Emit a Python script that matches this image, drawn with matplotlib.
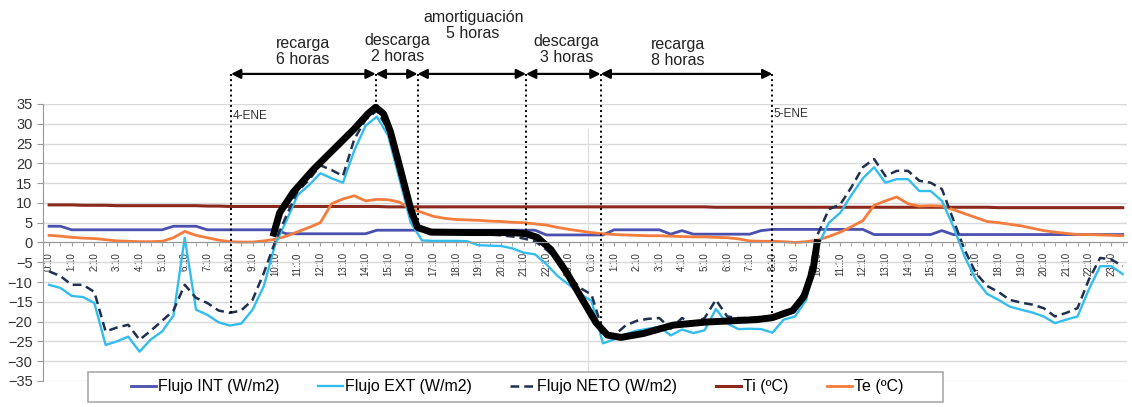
import numpy as np
import matplotlib
matplotlib.use("Agg")
import matplotlib.pyplot as plt
from matplotlib.patches import Rectangle

plt.rcParams["font.family"] = ["Liberation Sans", "DejaVu Sans"]

# horas desde 0:10 del 4-ENE, cada media hora
horas = np.arange(96) * 0.5

flujo_int = [4.1, 4.1, 3.2, 3.2, 3.2, 3.2, 3.2, 3.2, 3.2, 3.2, 3.2, 4.1, 4.1, 4.1, 3.2, 3.2,
             3.2, 3.2, 3.2, 3.2, 3.2, 2.2, 2.2, 2.2, 2.2, 2.2, 2.2, 2.2, 2.2, 3.1, 3.1, 3.1,
             3.1, 3.1, 3.1, 3.1, 3.1, 3.1, 3.1, 3.1, 3.1, 3.1, 3.1, 3.1, 1.9, 1.9, 1.9, 1.9,
             1.9, 1.9, 3.2, 3.2, 3.2, 3.2, 3.2, 2.1, 3.0, 2.1, 2.1, 2.1, 2.1, 2.1, 2.1, 3.0,
             3.3, 3.3, 3.3, 3.3, 3.3, 3.3, 3.3, 3.3, 3.3, 2.0, 2.0, 2.0, 2.0, 2.0, 2.0, 3.0,
             2.0, 2.0, 2.0, 2.0, 2.0, 2.0, 2.0, 2.0, 2.0, 2.0, 2.0, 2.0, 2.0, 2.0, 2.0, 2.0]

flujo_ext = [-10.7, -11.5, -13.5, -13.8, -15.3, -25.9, -25.0, -23.8, -27.6, -24.5, -22.5, -18.5,
             1.2, -17.0, -18.3, -20.2, -21.0, -20.5, -17.0, -11.0, -0.5, 5.5, 12.0, 14.5,
             17.5, 16.2, 15.1, 23.2, 29.5, 31.8, 27.0, 16.0, 5.0, 0.5, 0.4, 0.4,
             0.4, 0.3, -0.7, -0.8, -0.9, -1.5, -2.6, -3.0, -5.5, -8.5, -10.7, -13.0,
             -14.8, -25.5, -24.5, -23.2, -22.3, -21.8, -21.3, -23.5, -22.0, -22.9, -22.2, -16.8,
             -20.5, -21.9, -21.8, -21.9, -22.8, -19.5, -18.7, -14.5, -1.0, 5.0, 7.5, 12.0,
             16.2, 19.0, 15.1, 16.0, 16.0, 13.0, 13.0, 10.5, 4.1, -3.5, -9.4, -13.0,
             -14.5, -16.2, -17.0, -17.7, -18.7, -20.4, -19.5, -18.7, -11.9, -6.0, -6.0, -8.0]

flujo_neto = [-7.3, -8.5, -10.7, -10.7, -12.5, -22.5, -21.5, -20.8, -24.6, -22.3, -19.8, -17.2,
              -10.7, -14.0, -15.3, -17.2, -17.8, -17.2, -14.5, -7.7, 0.2, 6.8, 13.0, 15.8,
              19.5, 18.3, 16.8, 26.1, 31.0, 33.3, 28.5, 17.5, 6.5, 3.0, 2.8, 2.8,
              2.6, 2.5, 2.0, 2.0, 1.8, 1.5, 1.0, 0.3, -1.8, -4.5, -8.5, -11.5,
              -13.2, -22.5, -23.5, -21.0, -19.8, -19.3, -19.1, -21.8, -19.1, -20.4, -19.1, -14.5,
              -18.7, -19.1, -19.1, -18.8, -18.7, -17.4, -16.6, -11.1, 2.0, 8.4, 9.6, 14.0,
              19.0, 21.1, 16.8, 18.1, 18.1, 15.6, 15.1, 13.5, 5.8, -1.8, -7.7, -11.0,
              -12.5, -14.5, -15.2, -15.7, -16.6, -18.7, -17.8, -16.6, -9.4, -3.9, -4.3, -6.0]

ti = [9.5, 9.5, 9.5, 9.4, 9.4, 9.4, 9.3, 9.3, 9.3, 9.3, 9.3, 9.3, 9.3, 9.3, 9.2, 9.2,
      9.1, 9.1, 9.1, 9.1, 9.1, 9.1, 9.1, 9.1, 9.1, 9.1, 9.1, 9.1, 9.1, 9.1, 9.0, 9.0,
      9.0, 9.0, 9.0, 9.0, 9.0, 9.0, 9.0, 9.0, 9.0, 9.0, 9.0, 9.0, 9.0, 9.0, 9.0, 9.0,
      9.0, 9.0, 9.0, 9.0, 9.0, 9.0, 9.0, 9.0, 9.0, 9.0, 9.0, 8.9, 8.9, 8.9, 8.9, 8.9,
      8.9, 8.9, 8.9, 8.9, 8.9, 8.9, 8.9, 8.9, 8.9, 8.9, 8.9, 8.9, 8.9, 8.9, 8.9, 8.9,
      8.9, 8.9, 8.9, 8.9, 8.8, 8.8, 8.8, 8.8, 8.8, 8.8, 8.8, 8.8, 8.8, 8.8, 8.8, 8.8]

te = [1.8, 1.6, 1.3, 1.1, 1.0, 0.7, 0.4, 0.3, 0.2, 0.2, 0.3, 1.2, 2.8, 1.8, 1.2, 0.6,
      0.2, 0.1, 0.1, 0.4, 0.8, 1.6, 2.7, 3.8, 5.0, 9.8, 11.0, 11.8, 10.5, 10.9, 10.8, 10.2,
      8.5, 7.6, 6.6, 6.1, 5.8, 5.7, 5.6, 5.4, 5.3, 5.1, 5.0, 4.7, 4.4, 3.8, 3.3, 2.9,
      2.5, 2.2, 2.0, 1.9, 1.8, 1.7, 1.7, 1.6, 1.5, 1.4, 1.4, 1.3, 1.2, 0.9, 0.4, 0.3,
      0.3, 0.2, 0.0, 0.2, 0.6, 1.5, 2.6, 4.0, 5.5, 9.4, 10.5, 11.5, 9.8, 9.2, 9.3, 9.2,
      8.3, 7.3, 6.3, 5.3, 5.0, 4.6, 4.2, 3.6, 3.0, 2.6, 2.3, 2.0, 2.0, 1.9, 1.8, 1.7]

# curva dibujada a mano (trazo negro)
curva_h = [9.9, 10.2, 10.8, 11.7, 12.6, 13.5, 14.1, 14.45, 14.8, 15.1, 15.5, 16.0, 16.3,
           16.9, 18.8, 20.5, 21.1, 21.6, 22.2, 22.9, 23.6, 24.2, 24.7, 25.3, 26.3, 27.6,
           29.1, 31.3, 32.0, 32.9, 33.4, 33.8, 34.0]
curva_y = [1.5, 7.5, 12.7, 18.5, 23.6, 28.7, 32.5, 34.2, 32.5, 28.0, 19.4, 8.4, 3.8,
           2.6, 2.5, 2.5, 2.2, 1.3, -1.8, -7.6, -14.5, -20.3, -23.4, -24.0, -23.0, -20.9,
           -20.1, -19.5, -19.0, -17.2, -13.6, -6.9, 0.8]

# limites de las fases
limites_h = [8.05, 14.45, 16.3, 21.1, 24.4, 32.0]
limites_y = [-17.8, 34.2, 3.3, 1.6, -23.4, -19.5]
fases = ["recarga\n6 horas", "descarga\n2 horas", "amortiguación\n5 horas",
         "descarga\n3 horas", "recarga\n8 horas"]
fases_h = [11.24, 15.4, 18.76, 22.9, 27.83]
fases_y = [48.2, 49.0, 54.8, 48.7, 48.0]

fig = plt.figure(figsize=(11.32, 4.07), dpi=100)
ax = fig.add_axes([0.038, 0.064, 0.9578, 0.6805])

ax.set_xlim(-0.27, 47.7)
ax.set_ylim(-35, 35)
ax.set_yticks(np.arange(-35, 36, 5))
ax.yaxis.grid(True, color="#d9d9d9", linewidth=1)
ax.set_axisbelow(True)

ax.plot([23.85, 23.85], [-33, 28.7], color="#dddddd", linewidth=0.8)

ax.plot(horas, ti, color="#8b2a1c", linewidth=2.2)
ax.plot(horas, flujo_int, color="#4b4fae", linewidth=2)
ax.plot(horas, te, color="#f47c3c", linewidth=2)
ax.plot(horas, flujo_ext, color="#33bdee", linewidth=1.7)
ax.plot(horas, flujo_neto, color="#1f3050", linewidth=1.8, dashes=(3.5, 2))
ax.plot(curva_h, curva_y, color="black", linewidth=5, solid_capstyle="butt",
        solid_joinstyle="round")

# leyenda (handles propios)
h_int, = ax.plot([], [], color="#4b4fae", linewidth=2, label="Flujo INT (W/m2)")
h_ext, = ax.plot([], [], color="#33bdee", linewidth=1.7, label="Flujo EXT (W/m2)")
h_neto, = ax.plot([], [], color="#1f3050", linewidth=1.8, dashes=(3.5, 2), label="Flujo NETO (W/m2)")
h_ti, = ax.plot([], [], color="#8b2a1c", linewidth=2.2, label="Ti (ºC)")
h_te, = ax.plot([], [], color="#f47c3c", linewidth=2, label="Te (ºC)")

# flechas y lineas punteadas
y_flecha = 42.6
for xh, yb in zip(limites_h, limites_y):
    ax.plot([xh, xh], [y_flecha, yb], color="black", linestyle=":", linewidth=1.4,
            clip_on=False, zorder=5)
for i in range(len(limites_h) - 1):
    ax.annotate("", xy=(limites_h[i + 1], y_flecha), xytext=(limites_h[i], y_flecha),
                arrowprops=dict(arrowstyle="<|-|>", color="black", lw=1.6,
                                mutation_scale=14, shrinkA=0, shrinkB=0),
                annotation_clip=False)
for txt, xh, yh in zip(fases, fases_h, fases_y):
    ax.text(xh, yh, txt, ha="center", va="center", fontsize=11.5, color="#222222",
            linespacing=1.1, clip_on=False)

ax.text(8.1, 32, "4-ENE", fontsize=8.5, color="#333333", va="center")
ax.text(32.05, 32.5, "5-ENE", fontsize=8.5, color="#333333", va="center")

# ejes
for s in ["top", "right"]:
    ax.spines[s].set_visible(False)
ax.spines["bottom"].set_position(("data", 0))
ax.spines["bottom"].set_color("#999999")
ax.spines["left"].set_color("#999999")
ax.set_xticks(np.arange(48))
ax.set_xticklabels([f"{h % 24}:10" for h in range(48)], rotation=90, fontsize=7,
                   color="#333333")
ax.set_xticks(np.arange(0, 48, 0.5), minor=True)
ax.tick_params(axis="x", which="both", length=3, color="#999999", pad=4)
ax.tick_params(axis="y", length=4, color="#999999", labelsize=10.5, labelcolor="#333333")

# marco de la leyenda
fig.patches.append(Rectangle((88 / 1132, 5 / 407), 855 / 1132, 30 / 407,
                             transform=fig.transFigure, facecolor="white",
                             edgecolor="#aaaaaa", linewidth=1.2, zorder=3))
fig.legend(handles=[h_int, h_ext, h_neto, h_ti, h_te], loc="center", ncol=5,
           bbox_to_anchor=(517 / 1132, 20 / 407), fontsize=11.5, frameon=False,
           handlelength=1.6, handletextpad=0.1, columnspacing=2.4)

fig.savefig("out.png", dpi=100)
